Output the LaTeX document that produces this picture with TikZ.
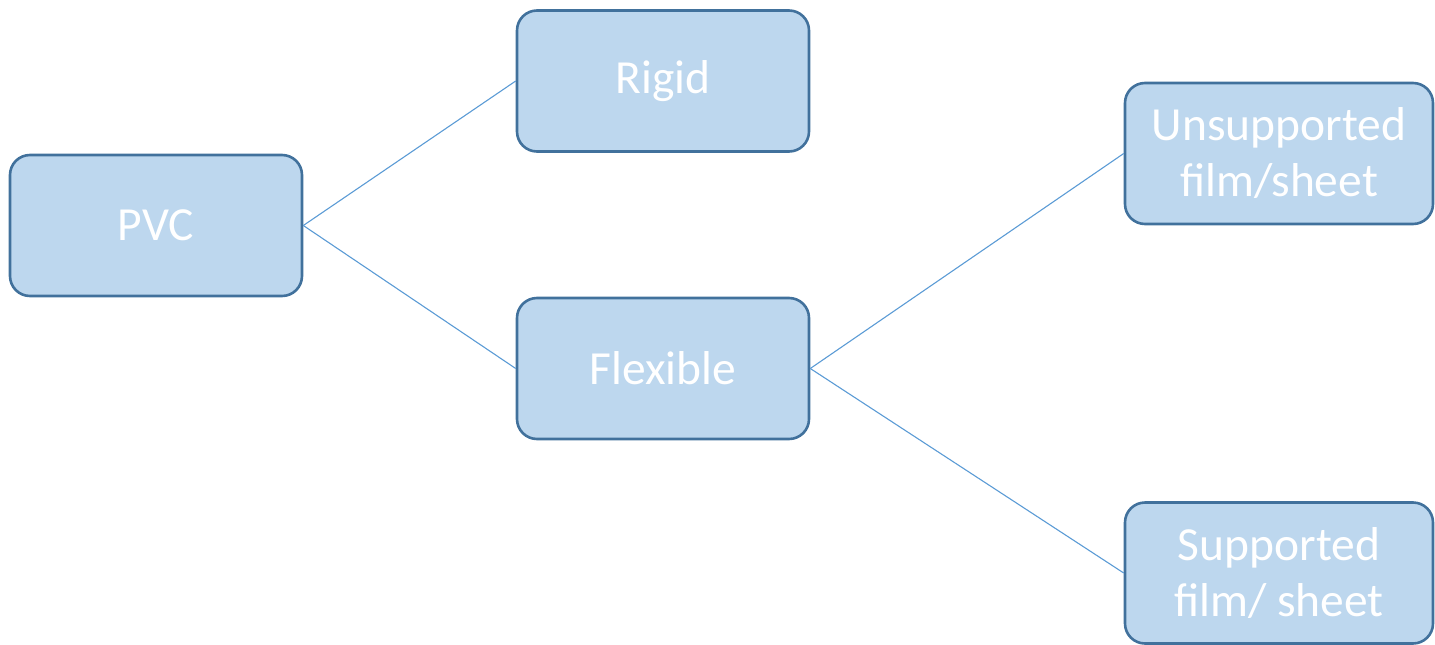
\documentclass[tikz,border=0pt]{standalone}
\usepackage{fontspec}
\setmainfont{Carlito}
\definecolor{boxfill}{HTML}{BDD7EE}
\definecolor{boxline}{HTML}{41719C}
\definecolor{conn}{HTML}{5B9BD5}
\begin{document}
\begin{tikzpicture}[x=1pt,y=-1pt,
  box/.style={draw=boxline, fill=boxfill, line width=2.6pt, rounded corners=20pt,
    minimum width=292pt, minimum height=141pt, inner sep=0pt, text=white,
    align=center, font=\fontsize{47.5}{56}\selectfont},
  wide/.style={minimum width=308pt},
  link/.style={draw=conn, line width=1.1pt}]
\useasboundingbox (0,0) rectangle (1435,645);
\node[box] (pvc) at (156,225.5) {PVC};
\node[box] (rigid) at (663,81) {Rigid};
\node[box] (flex) at (663,368.5) {Flexible};
\node[box,wide] (uns) at (1279,153.5) {Unsupported\\film/sheet};
\node[box,wide] (sup) at (1279,573) {Supported\\film/ sheet};
\draw[link] (pvc.east) -- (rigid.west);
\draw[link] (pvc.east) -- (flex.west);
\draw[link] (flex.east) -- (uns.west);
\draw[link] (flex.east) -- (sup.west);
\end{tikzpicture}
\end{document}
